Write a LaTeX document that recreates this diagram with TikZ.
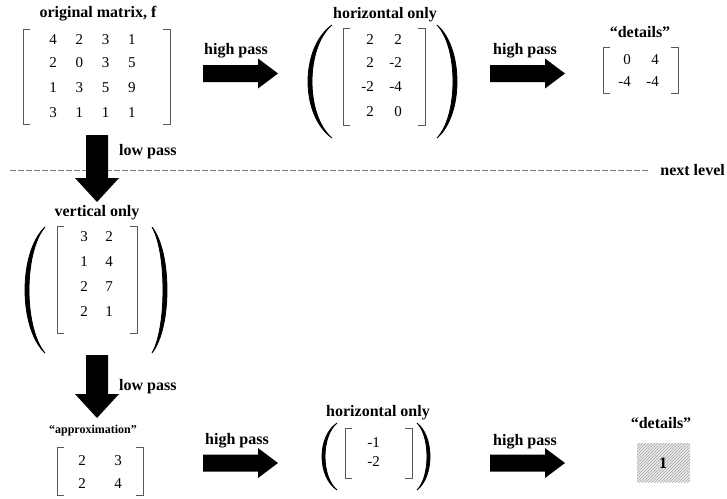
\documentclass[tikz,border=0pt]{standalone}
\usepackage{fontspec}
\setmainfont{Liberation Serif}
\usetikzlibrary{patterns}
\newcommand{\mbrk}[4]{%
  \draw[brk] (#1+7,#2) -- (#1,#2) -- (#1,#4) -- (#1+7,#4);
  \draw[brk] (#3-7,#2) -- (#3,#2) -- (#3,#4) -- (#3-7,#4);}
\newcommand{\prn}[5]{%
  \fill[draw=black,line width=0.8pt] (#1,#2) .. controls ({(4*#4-#1)/3},{#2+0.2*(#3-#2)}) and ({(4*#4-#1)/3},{#3-0.2*(#3-#2)}) .. (#1,#3)
   .. controls ({(4*(#4+#5)-#1)/3},{#3-0.2*(#3-#2)}) and ({(4*(#4+#5)-#1)/3},{#2+0.2*(#3-#2)}) .. cycle;}
\newcommand{\harrow}[2]{%
  \fill (#1,#2-8.5) -- (#1+55,#2-8.5) -- (#1+55,#2-15) -- (#1+75,#2) -- (#1+55,#2+15) -- (#1+55,#2+8.5) -- (#1,#2+8.5) -- cycle;}
\newcommand{\varrow}[3]{%
  \fill (#1-11,#2) -- (#1+11,#2) -- (#1+11,#3-24) -- (#1+22,#3-24) -- (#1,#3) -- (#1-22,#3-24) -- (#1-11,#3-24) -- cycle;}
\begin{document}
\begin{tikzpicture}[x=1pt,y=-1pt,
  lab/.style={inner sep=0pt,font=\bfseries\fontsize{16}{18}\selectfont},
  slab/.style={inner sep=0pt,font=\bfseries\fontsize{12}{14}\selectfont},
  ent/.style={inner sep=0pt,font=\fontsize{15}{17}\selectfont},
  brk/.style={draw=black!65,line width=0.9pt},
  dashline/.style={draw=black!50,line width=0.9pt,dash pattern=on 5.5pt off 2.5pt}]
\useasboundingbox (0,0) rectangle (727,498);
% ---------- top row ----------
\node[lab] (t1) at (98,14) {original matrix, f};
\mbrk{23}{29}{170}{124}
\foreach \r/\y in {{4,2,3,1}/40,{2,0,3,5}/63,{1,3,5,9}/88,{3,1,1,1}/113}{
  \foreach \v [count=\i] in \r {
    \node[ent] (m1-\y-\i) at ({53+26.3*(\i-1)},\y) {\v};}}
\node[lab] (hp1) at (236,51) {high pass};
\harrow{203}{73.5}
\node[lab] (t2) at (385,15) {horizontal only};
\prn{332}{25}{138}{308}{4}
\prn{437}{25}{138}{457}{-4}
\mbrk{343}{28}{425}{125}
\foreach \a/\b/\y in {2/2/40,2/\llap{-}2/63,\llap{-}2/\llap{-}4/87,2/0/112}{
  \node[ent] (m2a-\y) at (370,\y) {\a};
  \node[ent] (m2b-\y) at (398,\y) {\b};}
\node[lab] (hp2) at (525,51) {high pass};
\harrow{490}{73.5}
\node[lab] (t3) at (640,32) {“details”};
\mbrk{603}{47}{678}{93}
\node[ent] (d11) at (627,60) {0};
\node[ent] (d12) at (655,60) {4};
\node[ent] (d21) at (627,82) {\llap{-}4};
\node[ent] (d22) at (655,82) {\llap{-}4};
% ---------- level separator ----------
\coordinate (d0) at (10,170);
\node[lab,anchor=east] (nl) at (725,170) {next level};
\draw[dashline] (d0) -- ([xshift=-12pt]nl.west);
% ---------- left column ----------
\varrow{97}{135}{202}
\node[lab,anchor=west] (lp1) at (119,152) {low pass};
\node[lab] (t4) at (97,213) {vertical only};
\prn{45}{227}{353}{25}{4}
\prn{152}{227}{353}{167}{-4}
\mbrk{57}{226}{137}{333}
\foreach \a/\b/\y in {3/2/237,1/4/262,2/7/287,2/1/312}{
  \node[ent] (v1-\y) at (84,\y) {\a};
  \node[ent] (v2-\y) at (109,\y) {\b};}
\varrow{97}{355}{418}
\node[lab,anchor=west] (lp2) at (119,387) {low pass};
% ---------- bottom row ----------
\node[slab] (t5) at (93,431) {“approximation”};
\mbrk{57}{447}{143}{495}
\node[ent] (a11) at (82,461) {2};
\node[ent] (a12) at (118,461) {3};
\node[ent] (a21) at (82,484) {2};
\node[ent] (a22) at (118,484) {4};
\node[lab] (hp3) at (237,441) {high pass};
\harrow{203}{463}
\node[lab] (t6) at (378,413) {horizontal only};
\prn{337}{423}{490}{322}{3}
\prn{417}{423}{490}{430}{-3}
\mbrk{345}{428}{412}{478}
\node[ent] (h1) at (376,443) {\llap{-}1};
\node[ent] (h2) at (376,462) {\llap{-}2};
\node[lab] (hp4) at (525,442) {high pass};
\harrow{490}{463}
\node[lab] (t7) at (661,423) {“details”};
\fill[black!8] (637,443) rectangle (690,482);
\fill[pattern=north east lines,pattern color=black!35] (637,443) rectangle (690,482);
\node[lab] (one) at (663,463) {1};
\end{tikzpicture}
\end{document}
